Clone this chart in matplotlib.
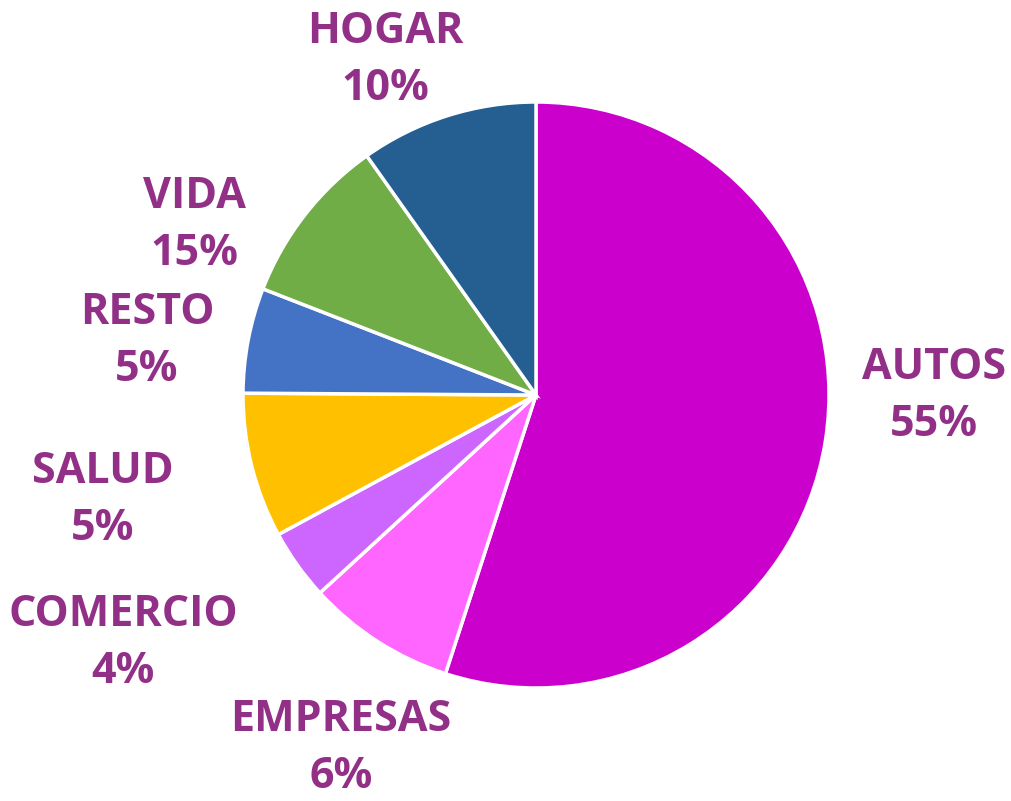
import matplotlib
matplotlib.use("Agg")
import matplotlib.pyplot as plt

categories = ["AUTOS", "EMPRESAS", "COMERCIO", "SALUD", "RESTO", "VIDA", "HOGAR"]
values = [55.0, 8.2, 3.9, 8.0, 5.8, 9.3, 9.8]
label_pcts = ["55%", "6%", "4%", "5%", "5%", "15%", "10%"]
colors = ["#CC00CC", "#FF66FF", "#CC66FF", "#FFC000", "#4472C4", "#70AD47", "#255E91"]

# layout (pixel positions of label centres, image coords)
W, H = 1011, 801
CX, CY, R = 536, 395, 293
label_px = [(934, 396), (341, 748), (123, 643), (103, 500), (147, 341), (194, 225), (385, 60)]

fig = plt.figure(figsize=(W / 100, H / 100), dpi=100)
ax = fig.add_axes([0, 0, 1, 1])

ax.pie(values, colors=colors, startangle=90, counterclock=False, radius=1.0,
       center=(0, 0), frame=True,
       wedgeprops=dict(edgecolor="white", linewidth=2.5))
ax.set_xlim(-CX / R, (W - CX) / R)
ax.set_ylim(-(H - CY) / R, CY / R)
ax.set_aspect("auto")
ax.axis("off")

for cat, pct, (px, py) in zip(categories, label_pcts, label_px):
    ax.text((px - CX) / R, (CY - py) / R, f"{cat}\n{pct}", ha="center", va="center",
            fontsize=31, fontweight="bold", family=["Open Sans", "DejaVu Sans"],
            color="#923087", linespacing=1.42)

fig.savefig("out.png", dpi=100, facecolor="white")
